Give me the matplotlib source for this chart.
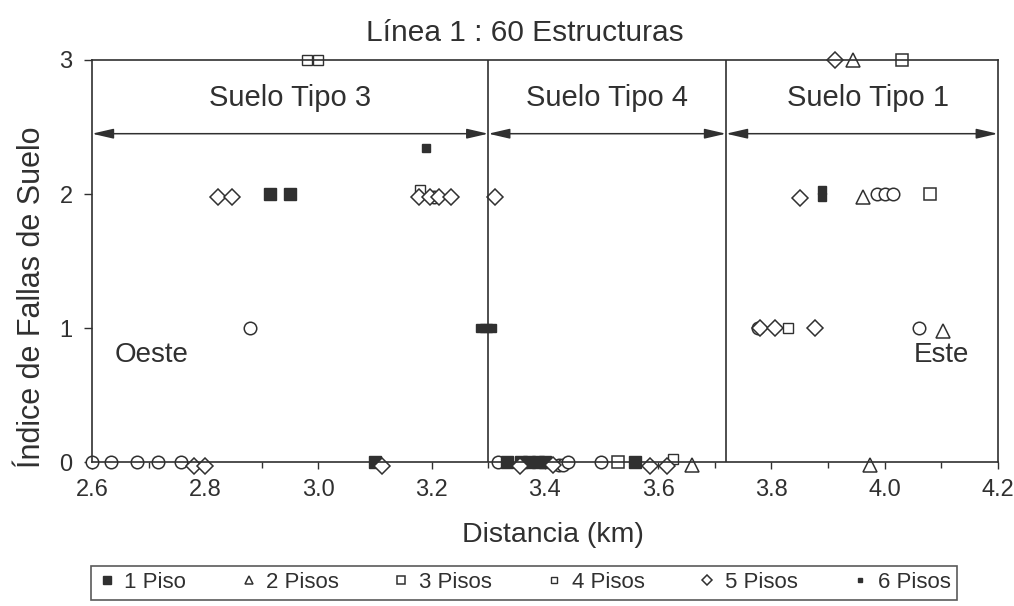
import matplotlib.pyplot as plt
from matplotlib.ticker import MultipleLocator

plt.rcParams['font.family'] = ['Liberation Sans', 'DejaVu Sans']

# data (distance km, index)
x_1piso = [2.915, 2.95, 3.10, 3.333, 3.357, 3.372, 3.387, 3.40, 3.56]
y_1piso = [2, 2, 0, 0, 0, 0, 0, 0, 0]
x_2pisos = [3.945, 3.962, 4.103, 3.975, 3.66]
y_2pisos = [3, 1.98, 0.98, -0.02, -0.02]
x_3pisos = [4.03, 4.08, 3.53]
y_3pisos = [3, 2, 0]
x_4pisos = [2.98, 3.0, 3.83, 3.627, 3.18]
y_4pisos = [3, 3, 1, 0.02, 2.03]
x_5pisos = [2.78, 2.80, 3.112, 2.823, 2.847, 3.177, 3.197, 3.213, 3.235, 3.312,
            3.356, 3.415, 3.586, 3.616, 3.913, 3.851, 3.78, 3.806, 3.877]
y_5pisos = [-0.03, -0.03, -0.03, 1.98, 1.98, 1.98, 1.98, 1.98, 1.98, 1.98,
            -0.03, -0.02, -0.03, -0.03, 3, 1.97, 1, 1, 1]
x_6pisos = [3.19, 3.285, 3.292, 3.299, 3.306, 3.89, 3.89]
y_6pisos = [2.34, 1, 1, 1, 1, 1.98, 2.03]
x_otros = [2.60, 2.634, 2.68, 2.716, 2.757, 2.88, 3.317, 3.425, 3.432, 3.44,
           3.50, 3.205, 3.987, 4.00, 4.015, 3.777, 4.06]
y_otros = [0, 0, 0, 0, 0, 1, 0, -0.02, -0.02, 0, 0, 1.98, 2, 2, 2, 1, 1]

limites = [2.6, 3.30, 3.72, 4.2]
suelos = ['Suelo Tipo 3', 'Suelo Tipo 4', 'Suelo Tipo 1']

c = '#303030'
fig = plt.figure(figsize=(10.14, 6.06), dpi=100)
ax = fig.add_axes([0.0907, 0.2376, 0.8933, 0.6634])

ax.plot(x_otros, y_otros, 'o', ms=9, mfc='white', mec=c, mew=1.1, label='_nolegend_', clip_on=False)
ax.plot(x_1piso, y_1piso, 's', ms=9, mfc=c, mec=c, label='1 Piso', clip_on=False)
ax.plot(x_2pisos, y_2pisos, '^', ms=10, mfc='white', mec=c, mew=1.1, label='2 Pisos', clip_on=False)
ax.plot(x_3pisos, y_3pisos, 's', ms=9, mfc='white', mec=c, mew=1.1, label='3 Pisos', clip_on=False)
ax.plot(x_4pisos, y_4pisos, 's', ms=7, mfc='white', mec=c, mew=1.0, label='4 Pisos', clip_on=False)
ax.plot(x_5pisos, y_5pisos, 'D', ms=8, mfc='white', mec=c, mew=1.1, label='5 Pisos', clip_on=False)
ax.plot(x_6pisos, y_6pisos, 's', ms=6, mfc=c, mec=c, label='6 Pisos', clip_on=False)

# soil zone separators and arrows
for xv in limites[1:-1]:
    ax.axvline(xv, color=c, lw=1.2)
for i in range(3):
    ax.annotate('', xy=(limites[i], 2.45), xytext=(limites[i + 1], 2.45),
                arrowprops=dict(arrowstyle='<|-|>,head_length=1.3,head_width=0.3',
                                color=c, lw=1.1, shrinkA=0, shrinkB=0))
    ax.text((limites[i] + limites[i + 1]) / 2 + (0.01 if i == 2 else 0), 2.72, suelos[i],
            ha='center', va='center', fontsize=21, color=c)

ax.text(2.64, 0.8, 'Oeste', ha='left', va='center', fontsize=20, color=c)
ax.text(4.15, 0.8, 'Este', ha='right', va='center', fontsize=20, color=c)

ax.set_xlim(2.6, 4.2)
ax.set_ylim(0, 3)
ax.xaxis.set_major_locator(MultipleLocator(0.2))
ax.xaxis.set_minor_locator(MultipleLocator(0.1))
ax.yaxis.set_major_locator(MultipleLocator(1))
ax.tick_params(axis='both', which='both', direction='out', colors=c, labelsize=17, width=1)
ax.tick_params(axis='x', which='major', length=5, pad=7)
ax.tick_params(axis='x', which='minor', length=4)
ax.tick_params(axis='y', length=6, pad=8)
ax.xaxis.set_major_formatter(plt.FuncFormatter(lambda v, p: f'{v:.1f}'))
for s in ax.spines.values():
    s.set_color(c)
    s.set_linewidth(1.2)

ax.set_title('Línea 1 : 60 Estructuras', fontsize=21.5, color=c, pad=14, x=0.478)
ax.set_xlabel('Distancia (km)', fontsize=20.5, color=c)
ax.set_ylabel('Índice de Fallas de Suelo', fontsize=22, color=c)
ax.xaxis.set_label_coords(0.509, -0.15)
ax.yaxis.set_label_coords(-0.05, 0.41)

leg = fig.legend(loc='center', bbox_to_anchor=(0.517, 0.0385), ncol=6, fontsize=16,
                 markerscale=0.6, frameon=True, fancybox=False, edgecolor=c,
                 handlelength=0.8, handletextpad=0.4, columnspacing=2.4,
                 borderpad=0.3)
leg.get_frame().set_linewidth(1.2)
for t in leg.get_texts():
    t.set_color(c)

fig.savefig('out.png', dpi=100)
